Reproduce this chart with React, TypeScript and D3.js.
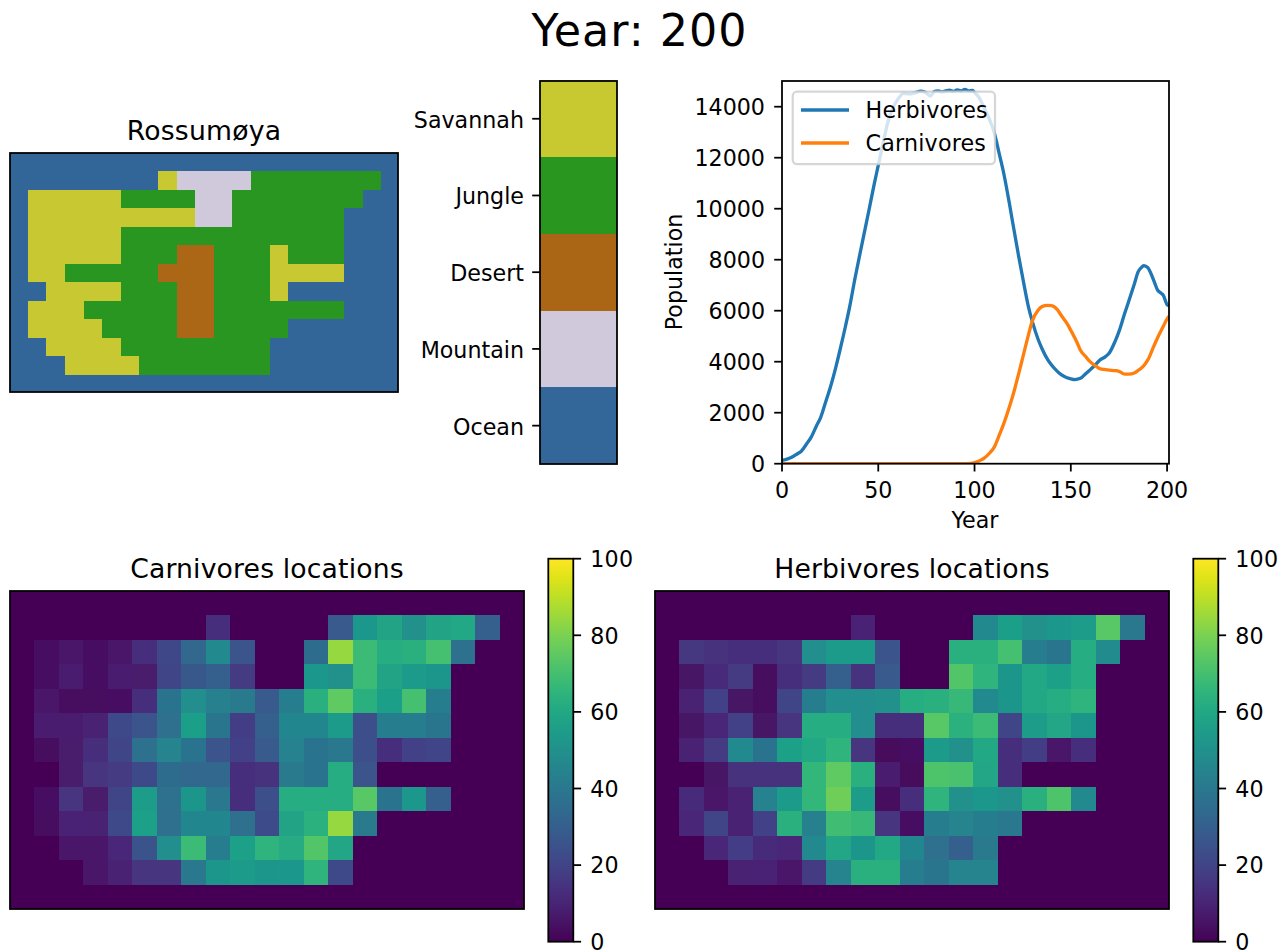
import React from "react";
import * as d3 from "d3";

const figureTitle = "Year: 200";
const mapTitle = "Rossumøya";
const carnTitle = "Carnivores locations";
const herbTitle = "Herbivores locations";

const landTypes = ["Savannah", "Jungle", "Desert", "Mountain", "Ocean"];
const landCodes = ["S", "J", "D", "M", "O"];
const landColors = ["#c8c930", "#299620", "#ab6615", "#d0c9dc", "#336699"];

const mapRows = [
  "OOOOOOOOOOOOOOOOOOOOO",
  "OOOOOOOOSMMMMJJJJJJJO",
  "OSSSSSJJJJMMJJJJJJJOO",
  "OSSSSSSSSSMMJJJJJJOOO",
  "OSSSSSJJJJJJJJJJJJOOO",
  "OSSSSSJJJDDJJJSJJJOOO",
  "OSSJJJJJDDDJJJSSSSOOO",
  "OOSSSSJJJDDJJJSOOOOOO",
  "OSSSJJJJJDDJJJJJJJOOO",
  "OSSSSJJJJDDJJJJOOOOOO",
  "OOSSSSJJJJJJJJOOOOOOO",
  "OOOSSSSJJJJJJJOOOOOOO",
  "OOOOOOOOOOOOOOOOOOOOO",
];

const carnivoresGrid = [
  [0,0,0,0,0,0,0,0,0,0,0,0,0,0,0,0,0,0,0,0,0],
  [0,0,0,0,0,0,0,0,13,0,0,0,0,28,53,58,50,58,60,30,0],
  [0,4,6,4,6,13,21,33,47,26,0,0,35,84,68,62,63,70,37,0,0],
  [0,4,8,4,8,7,20,27,30,17,0,0,53,50,68,58,54,52,0,0,0],
  [0,6,3,3,4,13,38,49,43,41,28,42,63,75,63,56,70,42,0,0,0],
  [0,8,8,9,22,26,36,56,39,18,30,46,46,54,24,42,42,39,0,0,0],
  [0,3,7,13,20,37,45,38,26,19,28,44,38,40,24,13,19,20,0,0,0],
  [0,0,7,15,17,22,35,33,33,13,14,41,38,62,26,0,0,0,0,0,0],
  [0,4,15,7,20,55,37,52,40,13,24,62,62,62,74,38,53,30,0,0,0],
  [0,3,10,9,22,57,36,46,46,36,23,58,64,84,41,0,0,0,0,0,0],
  [0,0,6,6,11,25,49,68,42,57,65,61,73,59,0,0,0,0,0,0,0],
  [0,0,0,6,9,15,15,40,52,54,52,53,65,22,0,0,0,0,0,0,0],
  [0,0,0,0,0,0,0,0,0,0,0,0,0,0,0,0,0,0,0,0,0],
];

const herbivoresGrid = [
  [0,0,0,0,0,0,0,0,0,0,0,0,0,0,0,0,0,0,0,0,0],
  [0,0,0,0,0,0,0,0,10,0,0,0,0,47,56,50,53,55,74,40,0],
  [0,16,14,13,13,15,49,54,54,26,0,0,63,63,70,42,39,62,48,0,0],
  [0,5,12,17,3,13,17,30,14,28,0,0,73,65,52,60,57,62,0,0,0],
  [0,9,19,5,3,20,42,49,49,50,62,63,67,47,52,60,62,65,0,0,0],
  [0,5,11,19,5,15,62,62,49,13,13,74,64,68,20,55,59,52,0,0,0],
  [0,9,17,47,38,57,60,65,15,2,4,54,50,60,13,18,6,13,0,0,0],
  [0,0,5,14,14,14,66,75,63,8,2,72,71,59,13,0,0,0,0,0,0],
  [0,12,6,9,44,54,66,78,55,3,13,65,50,53,50,63,72,47,0,0,0],
  [0,11,20,9,19,63,43,69,67,15,4,42,45,42,40,0,0,0,0,0,0],
  [0,0,11,18,12,11,47,59,52,60,46,36,30,41,0,0,0,0,0,0,0],
  [0,0,0,9,10,6,17,45,63,63,42,39,45,45,0,0,0,0,0,0,0],
  [0,0,0,0,0,0,0,0,0,0,0,0,0,0,0,0,0,0,0,0,0],
];

const herbYears = [0,3,5,8,10,13,15,18,20,23,25,28,30,33,35,38,40,43,45,48,50,53,55,57,59,61,63,66,69,72,74,76,77,79,81,83,85,87,89,91,93,95,97,99,100,102,105,108,110,113,115,118,120,123,125,128,130,133,135,138,140,143,145,148,150,152,155,158,160,163,165,168,170,173,175,178,180,183,185,187,188,190,193,195,197,198,200,201];
const herbValues = [130,190,250,390,490,800,1020,1500,1800,2500,2970,3800,4420,5400,6100,7300,8050,9150,9880,11000,11700,12750,13400,13850,14150,14380,14520,14500,14540,14610,14580,14470,14420,14590,14620,14580,14620,14650,14600,14660,14620,14680,14620,14640,14560,14400,13950,13450,13050,12100,11450,10250,9380,8100,7300,6150,5580,4880,4520,4080,3870,3620,3490,3370,3330,3300,3350,3550,3680,3900,4060,4200,4340,4800,5180,5900,6350,7050,7530,7720,7770,7690,7200,6820,6680,6610,6240,6200];

const carnYears = [0,95,98,100,103,105,108,110,113,115,118,120,123,125,128,130,133,135,138,140,143,145,148,150,153,155,158,160,163,165,168,170,173,175,178,180,183,185,188,190,193,195,198,200,201];
const carnValues = [0,0,15,45,130,220,430,620,1150,1530,2200,2700,3550,4150,5050,5600,6020,6160,6210,6200,6040,5820,5500,5230,4790,4450,4180,4000,3830,3730,3690,3670,3650,3620,3510,3510,3560,3660,3850,4070,4590,4930,5380,5680,5780];

const xTicks = [0, 50, 100, 150, 200];
const yTicks = [0, 2000, 4000, 6000, 8000, 10000, 12000, 14000];
const cbarTicks = [0, 20, 40, 60, 80, 100];
const legendLabels = ["Herbivores", "Carnivores"];
const seriesColors = ["#1f77b4", "#ff7f0e"];

const FONT = "'DejaVu Sans', sans-serif";
const SPINE = 1.78;
const TICK = 7.8;
const LABEL = 22.2;

const viridis = d3.scaleSequential(d3.interpolateViridis).domain([0, 100]);

function Frame({ x, y, w, h }: { x: number; y: number; w: number; h: number }) {
  return <rect x={x} y={y} width={w} height={h} fill="none" stroke="#000" strokeWidth={SPINE} />;
}

function Grid({
  x, y, w, h, rows, cols, color, bg, clipId, gx, gy, gw, gh,
}: {
  x: number; y: number; w: number; h: number; rows: number; cols: number;
  color: (r: number, c: number) => string; bg: string; clipId: string;
  gx: number; gy: number; gw: number; gh: number;
}) {
  const sx = d3.scaleLinear().domain([0, cols]).range([gx, gx + gw]);
  const sy = d3.scaleLinear().domain([0, rows]).range([gy, gy + gh]);
  return (
    <g>
      <clipPath id={clipId}><rect x={x} y={y} width={w} height={h} /></clipPath>
      <rect x={x} y={y} width={w} height={h} fill={bg} />
      <g clipPath={`url(#${clipId})`}>
        <g filter="url(#soft)">
          {d3.range(rows).flatMap((r) =>
            d3.range(cols).map((c) => (
              <rect
                key={`${r}-${c}`}
                x={sx(c)}
                y={sy(r)}
                width={sx(c + 1) - sx(c)}
                height={sy(r + 1) - sy(r)}
                fill={color(r, c)}
                shapeRendering="crispEdges"
              />
            ))
          )}
        </g>
      </g>
      <Frame x={x} y={y} w={w} h={h} />
    </g>
  );
}

function Colorbar({ x, y0, y1, w, id }: { x: number; y0: number; y1: number; w: number; id: string }) {
  const s = d3.scaleLinear().domain([0, 100]).range([y0, y1]);
  const stops = d3.range(0, 101, 5);
  return (
    <g>
      <defs>
        <linearGradient id={id} x1="0" y1="1" x2="0" y2="0">
          {stops.map((v) => (
            <stop key={v} offset={`${v}%`} stopColor={viridis(v)} />
          ))}
        </linearGradient>
      </defs>
      <rect x={x} y={y1} width={w} height={y0 - y1} fill={`url(#${id})`} />
      <Frame x={x} y={y1} w={w} h={y0 - y1} />
      {cbarTicks.map((t) => (
        <g key={t}>
          <line x1={x + w} x2={x + w + TICK} y1={s(t)} y2={s(t)} stroke="#000" strokeWidth={SPINE} />
          <text x={x + w + 17} y={s(t) + 8.3} fontSize={LABEL} fill="#000" letterSpacing={0.2}>{t}</text>
        </g>
      ))}
    </g>
  );
}

export default function App() {
  const codeIndex = (ch: string) => landCodes.indexOf(ch);

  // land legend
  const landBand = d3.scaleBand<string>().domain(landTypes).range([80.4, 464]);
  const lx = 540, lw = 77;

  // population
  const px0 = 782, px1 = 1169, py0 = 463.7, py1 = 81;
  const xs = d3.scaleLinear().domain([0, 201]).range([px0, px1]);
  const ys = d3.scaleLinear().domain([0, 15008]).range([py0, py1]);
  const line = d3
    .line<[number, number]>()
    .x((d) => xs(d[0]))
    .y((d) => ys(d[1]))
    .curve(d3.curveMonotoneX);
  const herbPath = line(herbYears.map((yr, i) => [yr, herbValues[i]] as [number, number])) || "";
  const carnPath = line(carnYears.map((yr, i) => [yr, carnValues[i]] as [number, number])) || "";

  return (
    <svg
      width={1281}
      height={950}
      viewBox="0 0 1281 950"
      style={{ position: "absolute", left: 0, top: 0, display: "block" }}
      fontFamily={FONT}
    >
      <defs>
        <filter id="soft" x="-2%" y="-2%" width="104%" height="104%">
          <feGaussianBlur stdDeviation="0.55" />
        </filter>
        <clipPath id="popClip"><rect x={px0} y={py1} width={px1 - px0} height={py0 - py1} /></clipPath>
      </defs>
      <rect width={1281} height={950} fill="#fff" />

      <text x={639.5} y={46} textAnchor="middle" fontSize={44.4} letterSpacing={1} fill="#000">{figureTitle}</text>

      {/* Island map */}
      <text x={204} y={140} textAnchor="middle" fontSize={26.67} letterSpacing={0.2} fill="#000">{mapTitle}</text>
      <Grid
        x={10} y={153} w={388} h={239} rows={mapRows.length} cols={mapRows[0].length}
        gx={9.1} gy={152.6} gw={390.8} gh={240.8}
        color={(r, c) => landColors[codeIndex(mapRows[r][c])]}
        bg={landColors[4]} clipId="mapClip"
      />

      {/* Land type legend */}
      {landTypes.map((name, i) => (
        <g key={name}>
          <rect x={lx} y={landBand(name)} width={lw} height={landBand.bandwidth()} fill={landColors[i]} shapeRendering="crispEdges" />
          <line
            x1={lx - TICK} x2={lx}
            y1={(landBand(name) as number) + landBand.bandwidth() / 2}
            y2={(landBand(name) as number) + landBand.bandwidth() / 2}
            stroke="#000" strokeWidth={SPINE}
          />
          <text
            x={524} y={(landBand(name) as number) + landBand.bandwidth() / 2 + 9}
            textAnchor="end" fontSize={LABEL} fill="#000"
          >{name}</text>
        </g>
      ))}
      <Frame x={lx} y={81} w={lw} h={383} />

      {/* Population lines */}
      <g clipPath="url(#popClip)">
        <path d={herbPath} fill="none" stroke={seriesColors[0]} strokeWidth={3.33} strokeLinejoin="round" />
        <path d={carnPath} fill="none" stroke={seriesColors[1]} strokeWidth={3.33} strokeLinejoin="round" />
      </g>
      <Frame x={px0} y={py1} w={px1 - px0} h={py0 - py1} />
      {xTicks.map((t) => (
        <g key={t}>
          <line x1={xs(t)} x2={xs(t)} y1={py0} y2={py0 + TICK} stroke="#000" strokeWidth={SPINE} />
          <text x={xs(t)} y={497.5} textAnchor="middle" fontSize={LABEL} fill="#000">{t}</text>
        </g>
      ))}
      {yTicks.map((t) => (
        <g key={t}>
          <line x1={px0 - TICK} x2={px0} y1={ys(t)} y2={ys(t)} stroke="#000" strokeWidth={SPINE} />
          <text x={765} y={ys(t) + 8.7} textAnchor="end" fontSize={LABEL} fill="#000">{t}</text>
        </g>
      ))}
      <text x={975} y={527.5} textAnchor="middle" fontSize={LABEL} fill="#000">Year</text>
      <text
        transform="translate(682,272) rotate(-90)"
        textAnchor="middle" fontSize={LABEL} fill="#000"
      >Population</text>

      {/* Legend */}
      <rect
        x={792.7} y={91.7} width={202.3} height={72.5} rx={4.4} ry={4.4}
        fill="#fff" fillOpacity={0.8} stroke="#ccc" strokeOpacity={0.8} strokeWidth={2.2}
      />
      {legendLabels.map((lab, i) => {
        const yy = 110 + i * 33;
        return (
          <g key={lab}>
            <line x1={801} x2={849} y1={yy} y2={yy} stroke={seriesColors[i]} strokeWidth={3.33} />
            <text x={865.5} y={yy + 8.3} fontSize={LABEL} letterSpacing={0.2} fill="#000">{lab}</text>
          </g>
        );
      })}

      {/* Heat maps */}
      <text x={267} y={578} textAnchor="middle" fontSize={26.67} letterSpacing={0.15} fill="#000">{carnTitle}</text>
      <Grid
        x={10} y={591} w={514} h={318} rows={13} cols={21}
        gx={10} gy={591} gw={514} gh={318}
        color={(r, c) => viridis(carnivoresGrid[r][c])} bg={viridis(0)} clipId="carnClip"
      />
      <Colorbar x={548.3} y0={941.7} y1={558.7} w={25} id="cbar1" />

      <text x={912} y={578} textAnchor="middle" fontSize={26.67} letterSpacing={0.15} fill="#000">{herbTitle}</text>
      <Grid
        x={655} y={591} w={514} h={318} rows={13} cols={21}
        gx={655} gy={591} gw={514} gh={318}
        color={(r, c) => viridis(herbivoresGrid[r][c])} bg={viridis(0)} clipId="herbClip"
      />
      <Colorbar x={1193.3} y0={941.7} y1={558.7} w={25} id="cbar2" />
    </svg>
  );
}
